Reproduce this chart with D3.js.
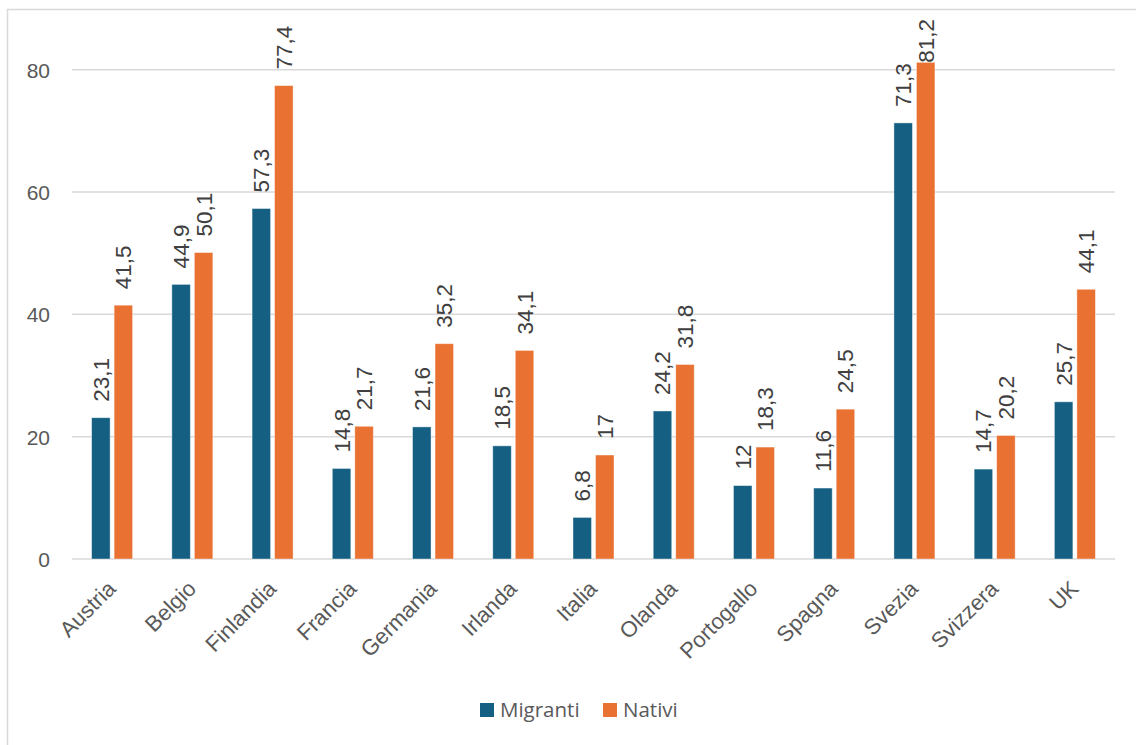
<!DOCTYPE html>
<html><head><meta charset="utf-8">
<script src="https://cdn.jsdelivr.net/npm/d3@7/dist/d3.min.js"></script>
<style>body{margin:0;background:#fff;}svg{display:block;}</style>
</head><body>
<svg id="c" width="1136" height="745"></svg>
<script>
const categories = ["Austria","Belgio","Finlandia","Francia","Germania","Irlanda","Italia","Olanda","Portogallo","Spagna","Svezia","Svizzera","UK"];
const seriesNames = ["Migranti","Nativi"];
const migranti = [23.1,44.9,57.3,14.8,21.6,18.5,6.8,24.2,12,11.6,71.3,14.7,25.7];
const nativi = [41.5,50.1,77.4,21.7,35.2,34.1,17,31.8,18.3,24.5,81.2,20.2,44.1];
const yTicks = [0,20,40,60,80];
const colors = {"Migranti":"#156082","Nativi":"#E97132"};

const svg = d3.select("#c");
const font = "'Liberation Sans', Arial, sans-serif";
// frame
svg.append("rect").attr("x",7.5).attr("y",9.5).attr("width",1140).attr("height",760)
  .attr("fill","none").attr("stroke","#d9d9d9").attr("stroke-width",1.5);

const x = d3.scaleBand().domain(categories).range([72,1115]).padding(0);
const y = d3.scaleLinear().domain([0,80]).range([559,69.7]);
const bw = x.bandwidth();
const xs = d3.scaleBand().domain(seriesNames).range([bw/2-20.5, bw/2+20.5]).paddingInner(0.178);

// gridlines
svg.append("g").selectAll("line").data(yTicks).join("line")
  .attr("x1",72).attr("x2",1115).attr("y1",d=>y(d)).attr("y2",d=>y(d))
  .attr("stroke","#d9d9d9").attr("stroke-width",1.5);

// y axis labels
const yAxis = d3.axisLeft(y).tickValues(yTicks).tickSize(0).tickPadding(0).tickFormat(d3.format("d"));
const ya = svg.append("g").attr("transform","translate(50,0)").call(yAxis);
ya.select(".domain").remove();
ya.selectAll("text").attr("font-family",font).attr("font-size",21).attr("fill","#595959").attr("dy","0.35em");

// x axis labels
const xAxis = d3.axisBottom(x).tickSize(0).tickPadding(0);
const xa = svg.append("g").attr("transform","translate(0,559)").call(xAxis);
xa.select(".domain").remove();
xa.selectAll("text").attr("font-family",font).attr("font-size",22).attr("fill","#595959")
  .attr("text-anchor","end").attr("dy",null).attr("y",null)
  .attr("transform","translate(5,31) rotate(-45)");

const data = categories.map((c,i)=>({cat:c, vals:[{s:"Migranti",v:migranti[i]},{s:"Nativi",v:nativi[i]}]}));
const groups = svg.append("g").selectAll("g").data(data).join("g")
  .attr("transform",d=>`translate(${x(d.cat)},0)`);
groups.selectAll("rect").data(d=>d.vals).join("rect")
  .attr("x",d=>xs(d.s)).attr("width",xs.bandwidth())
  .attr("y",d=>y(d.v)).attr("height",d=>y(0)-y(d.v))
  .attr("fill",d=>colors[d.s]).attr("stroke","#ffffff").attr("stroke-width",0.8).attr("stroke-opacity",0.5);
const labels = groups.selectAll("text").data(d=>d.vals).join("text")
  .attr("font-family",font).attr("font-size",22.5).attr("fill","#404040")
  .attr("text-anchor","start")
  .text(d=>String(d.v).replace(".",","));
labels.each(function(d){
  const len = this.getComputedTextLength();
  let bottom = y(d.v) - 16;
  if (bottom - len < 19) bottom = 19 + len;
  d3.select(this).attr("transform",`translate(${xs(d.s)+xs.bandwidth()/2+8},${bottom}) rotate(-90)`);
});

// legend
const lg = svg.append("g").attr("transform","translate(480,703)");
const items = [{s:"Migranti",x:0},{s:"Nativi",x:123}];
const li = lg.selectAll("g").data(items).join("g").attr("transform",d=>`translate(${d.x},0)`);
li.append("rect").attr("width",14).attr("height",14).attr("fill",d=>colors[d.s]);
li.append("text").attr("x",20).attr("y",14).attr("font-family","'Open Sans', sans-serif").attr("font-size",20.5)
  .attr("fill","#595959").text(d=>d.s);
</script>
</body></html>
